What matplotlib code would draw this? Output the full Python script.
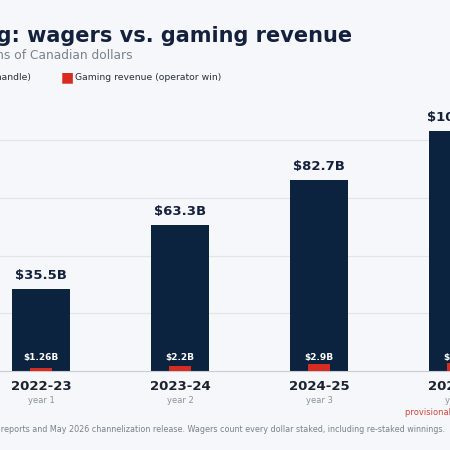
import numpy as np
import matplotlib.pyplot as plt

# data
years = ['2022-23', '2023-24', '2024-25', '2025-26']
year_notes = ['year 1', 'year 2', 'year 3', 'year 4']
wagers = [35.5, 63.3, 82.7, 103.8]
revenue = [1.26, 2.2, 2.9, 3.6]
wager_labels = ['$35.5B', '$63.3B', '$82.7B', '$103.8B']
revenue_labels = ['$1.26B', '$2.2B', '$2.9B', '$3.6B']

navy = '#0c2340'
red = '#d62d20'
bg = '#f5f7fa'

fig = plt.figure(figsize=(4.5, 4.5), dpi=100, facecolor=bg)
# chart is wider than the visible frame, so the axes run past the edges
ax = fig.add_axes([-28.5 / 450, 79 / 450, 556 / 450, 254 / 450], facecolor=bg)

x = np.arange(len(years))
ax.bar(x, wagers, width=0.42, color=navy, zorder=2)
ax.bar(x, revenue, width=0.16, color=red, zorder=3)

ax.set_xlim(-0.5, 3.5)
ax.set_ylim(0, 110)
ax.set_yticks([25, 50, 75, 100])
ax.grid(axis='y', color='#e1e5ea', linewidth=0.8, zorder=0)
ax.tick_params(left=False, bottom=False, labelleft=False, labelbottom=False)
for s in ['top', 'right', 'left']:
    ax.spines[s].set_visible(False)
ax.spines['bottom'].set_color('#c5ccd6')

for i in x:
    ax.annotate(wager_labels[i], (i, wagers[i]), xytext=(0, 5), textcoords='offset points',
                ha='center', va='bottom', fontsize=9.5, fontweight='bold', color='#14213d')
    ax.annotate(revenue_labels[i], (i, 0), xytext=(0, 6.5), textcoords='offset points',
                ha='center', va='bottom', fontsize=6.5, fontweight='bold', color='white')
    ax.annotate(years[i], (i, 0), xytext=(0, -11), textcoords='offset points',
                ha='center', va='center', fontsize=9.5, fontweight='bold', color='#1c2230')
    ax.annotate(year_notes[i], (i, 0), xytext=(0, -21), textcoords='offset points',
                ha='center', va='center', fontsize=6, color='#8a929c')
ax.annotate('provisional \u2014 annualized', (3, 0), xytext=(0, -30), textcoords='offset points',
            ha='center', va='center', fontsize=6, color='#d0463c')

fig.text(352 / 450, 1 - 36 / 450, 'Ontario iGaming: wagers vs. gaming revenue', ha='right', va='center',
         fontsize=15, fontweight='bold', color='#14213d')
fig.text(133 / 450, 1 - 55 / 450, 'Wagers and revenue, in billions of Canadian dollars', ha='right', va='center',
         fontsize=8.8, color='#7a828c')
fig.text(31 / 450, 1 - 77 / 450, '\u25a0 Wagers (handle)', ha='right', va='center',
         fontsize=6.7, color='#2a2f38')
fig.text(61 / 450, 1 - 77 / 450, '\u25a0', ha='left', va='center', fontsize=10, color=red)
fig.text(75 / 450, 1 - 77 / 450, 'Gaming revenue (operator win)', ha='left', va='center',
         fontsize=6.7, color='#2a2f38')
fig.text(445 / 450, 1 - 429 / 450,
         'Source: iGaming Ontario annual reports and May 2026 channelization release. '
         'Wagers count every dollar staked, including re-staked winnings.',
         ha='right', va='center', fontsize=5.8, color='#7a828c')

fig.savefig('out.png', dpi=100, facecolor=bg)
